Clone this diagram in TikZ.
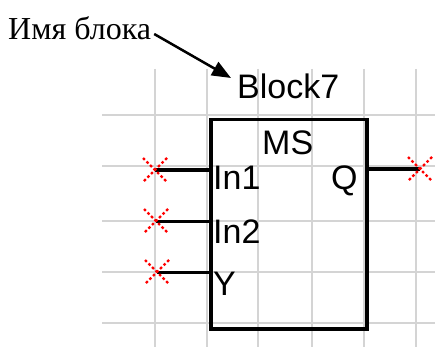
\documentclass[tikz,border=0pt]{standalone}
\usepackage{fontspec}
\setmainfont{Liberation Serif}
\newfontfamily\blkfont{Liberation Sans}
\usetikzlibrary{arrows.meta}
\begin{document}
\begin{tikzpicture}[x=1pt,y=-1pt,
  gridline/.style={draw=black!17,line width=2.6pt},
  wire/.style={line width=3pt,line cap=butt},
  xmark/.style={red,line width=2.4pt,dash pattern=on 2.6pt off 2.4pt},
  blktext/.style={inner sep=0pt,anchor=base west,font=\blkfont\fontsize{34}{34}\selectfont},
]
\useasboundingbox (0,0) rectangle (435,347);
% grid
\foreach \gx in {155,207,258,312,364,416} \draw[gridline] (\gx,69) -- (\gx,347);
\foreach \gy in {115,166,221,272,323} \draw[gridline] (102,\gy) -- (435,\gy);
% block
\node[draw,line width=3.5pt,minimum width=156pt,minimum height=209pt,anchor=north west,inner sep=0pt] (blk) at (209,118) {};
\node[blktext] (name) at (237,99) {Block7};
\node[blktext] (ms) at (262,154) {MS};
\node[blktext] (in1) at (213,189) {In1};
\node[blktext] (in2) at (213,243) {In2};
\node[blktext] (y) at (213,295) {Y};
\node[blktext] (q) at (331,189) {Q};
% wire end points
\coordinate (e1) at (155,170);
\coordinate (e2) at (156,221);
\coordinate (e3) at (157,272);
\coordinate (eq) at (420,169);
\draw[wire,line width=4pt] (e1) -- (blk.west |- e1);
\draw[wire] (e2) -- (blk.west |- e2);
\draw[wire] (e3) -- (blk.west |- e3);
\draw[wire,line width=4pt] (blk.east |- eq) -- (eq);
\foreach \c in {e1,e2,e3,eq} {
  \draw[xmark] ([shift={(-12,-12)}]\c) -- ([shift={(12,12)}]\c);
  \draw[xmark] ([shift={(12,-12)}]\c) -- ([shift={(-12,12)}]\c);
}
% label and arrow
\node[inner sep=0pt,anchor=base west,font=\fontsize{32}{32}\selectfont] (lbl) at (8,40) {Имя блока};
\coordinate (tip) at (231,78);
\draw[line width=2.5pt,-{Triangle[length=19pt,width=15pt]}] ([shift={(3,-6)}]lbl.base east) -- (tip);
\end{tikzpicture}
\end{document}
